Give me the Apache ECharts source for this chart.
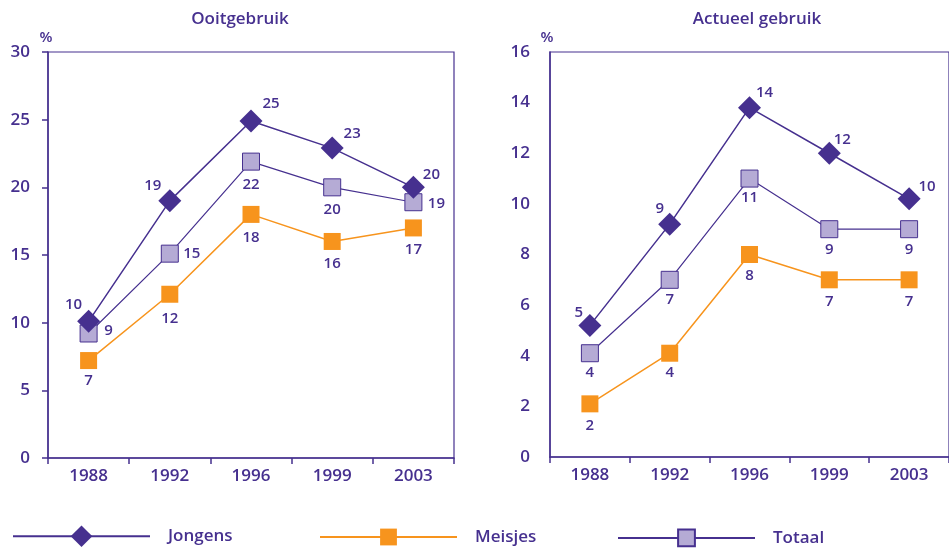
<!DOCTYPE html>
<html>
<head>
<meta charset="utf-8">
<script src="https://cdn.jsdelivr.net/npm/echarts@6/dist/echarts.min.js"></script>
<style>html,body{margin:0;padding:0;background:#fff;}#c{width:949px;height:548px;}</style>
</head>
<body>
<div id="c"></div>
<script>
// ---- data ----
var years = ['1988', '1992', '1996', '1999', '2003'];
var titleLeft = 'Ooitgebruik';
var titleRight = 'Actueel gebruik';
var seriesNames = ['Jongens', 'Meisjes', 'Totaal'];
// Ooitgebruik (%)
var ooitJongens = [10.1, 19.0, 24.9, 22.9, 20.0];
var ooitMeisjes = [7.2, 12.1, 18.0, 16.0, 17.0];
var ooitTotaal  = [9.2, 15.1, 21.9, 20.0, 18.9];
// Actueel gebruik (%)
var actJongens = [5.2, 9.2, 13.8, 12.0, 10.2];
var actMeisjes = [2.1, 4.1, 8.0, 7.0, 7.0];
var actTotaal  = [4.1, 7.0, 11.0, 9.0, 9.0];
// axis ticks
var leftTicks = {min: 0, max: 30, interval: 5};
var rightTicks = {min: 0, max: 16, interval: 2};

// ---- styles ----
var PURPLE = '#46308f';
var ORANGE = '#f7941d';
var LAVENDER = '#b5abd5';
var FONT = 'Open Sans';
var FW = 600;

// label offsets (layout only)
var offL = {
  Jongens: [[-15,-17],[-17,-15],[20,-17],[20,-14],[18,-13]],
  Meisjes: [[0,20],[0,24],[0,23],[0,22],[0,22]],
  Totaal:  [[20,-3],[22,0],[0,23],[0,22],[23,2]]
};
var offR = {
  Jongens: [[-11,-13],[-10,-15],[15,-15],[13,-14],[18,-12]],
  Meisjes: [[0,22],[0,20],[0,21],[0,22],[0,22]],
  Totaal:  [[0,20],[0,20],[0,19],[0,21],[0,21]]
};

function withLabels(vals, offs) {
  return vals.map(function (v, i) {
    return {value: v, label: {offset: offs[i]}};
  });
}

var styles = {
  Jongens: {symbol: 'diamond', symbolSize: 23, lineStyle: {color: PURPLE, width: 1.5},
            itemStyle: {color: PURPLE, borderColor: PURPLE, borderWidth: 0}},
  Meisjes: {symbol: 'rect', symbolSize: 17, lineStyle: {color: ORANGE, width: 1.5},
            itemStyle: {color: ORANGE, borderColor: ORANGE, borderWidth: 0}},
  Totaal:  {symbol: 'rect', symbolSize: 17, lineStyle: {color: PURPLE, width: 1.2},
            itemStyle: {color: LAVENDER, borderColor: PURPLE, borderWidth: 1}}
};

function mkSeries(name, vals, offs, xi, yi) {
  var s = styles[name];
  return {
    name: name, type: 'line', xAxisIndex: xi, yAxisIndex: yi,
    symbol: s.symbol, symbolSize: s.symbolSize, showAllSymbol: true,
    lineStyle: s.lineStyle, itemStyle: s.itemStyle,
    emphasis: {disabled: true}, animation: false,
    label: {show: true, position: 'inside', color: PURPLE, fontFamily: FONT, fontSize: 15, fontWeight: FW,
            formatter: function (p) { return Math.round(p.value); }},
    data: withLabels(vals, offs),
    z: name === 'Jongens' ? 4 : (name === 'Totaal' ? 3 : 2)
  };
}

var axisText = {color: PURPLE, fontFamily: FONT, fontSize: 17, fontWeight: FW};

function xAx(gi) {
  return {type: 'category', gridIndex: gi, data: years, boundaryGap: true,
    axisLine: {lineStyle: {color: PURPLE, width: 1.5}},
    axisTick: {show: true, length: 6, lineStyle: {color: PURPLE, width: 1.5}},
    axisLabel: Object.assign({margin: 10}, axisText)};
}
function yAx(gi, t, margin, showTick) {
  return {type: 'value', gridIndex: gi, min: t.min, max: t.max, interval: t.interval,
    axisLine: {show: true, lineStyle: {color: PURPLE, width: 1.5}},
    axisTick: {show: showTick, length: 6, lineStyle: {color: PURPLE, width: 1.5}},
    splitLine: {show: false},
    axisLabel: Object.assign({margin: margin}, axisText)};
}

var yAxes = [yAx(0, leftTicks, 18, true), yAx(1, rightTicks, 20, false)];
// right panel tick marks (drawn as in the source, on their own spacing)
yAxes.push({type: 'value', gridIndex: 1, min: 0, max: 14, interval: 2,
  axisLine: {show: false}, splitLine: {show: false}, axisLabel: {show: false},
  axisTick: {show: true, length: 6, lineStyle: {color: PURPLE, width: 1.5}}});

function legendFor(name, left, h) {
  return {data: [name], left: left, top: 539 - h / 2, padding: 0,
    itemWidth: 137, itemHeight: h, selectedMode: false,
    textStyle: {color: PURPLE, fontFamily: FONT, fontSize: 17, fontWeight: FW, padding: [0, 0, 0, 13]}};
}

var tfont = FW + ' 17px "' + FONT + '"';
var option = {
  animation: false,
  backgroundColor: '#fff',
  grid: [
    {left: 48, top: 52, width: 406, height: 406, show: true, borderColor: PURPLE, borderWidth: 1.2, backgroundColor: 'transparent'},
    {left: 550, top: 52, width: 406, height: 405, show: true, borderColor: PURPLE, borderWidth: 1.2, backgroundColor: 'transparent'}
  ],
  xAxis: [xAx(0), xAx(1)],
  yAxis: yAxes,
  legend: [legendFor('Jongens', 12, 27), legendFor('Meisjes', 319, 21), legendFor('Totaal', 617, 21)],
  graphic: [
    {type: 'text', x: 240, y: 19, style: {text: titleLeft, fill: PURPLE, font: tfont, textAlign: 'center', textVerticalAlign: 'middle'}},
    {type: 'text', x: 757, y: 19, style: {text: titleRight, fill: PURPLE, font: tfont, textAlign: 'center', textVerticalAlign: 'middle'}},
    {type: 'text', x: 46, y: 38, style: {text: '%', fill: PURPLE, font: FW + ' 15px "' + FONT + '"', textAlign: 'center', textVerticalAlign: 'middle'}},
    {type: 'text', x: 547, y: 38, style: {text: '%', fill: PURPLE, font: FW + ' 15px "' + FONT + '"', textAlign: 'center', textVerticalAlign: 'middle'}}
  ],
  series: [
    mkSeries('Meisjes', ooitMeisjes, offL.Meisjes, 0, 0),
    mkSeries('Totaal', ooitTotaal, offL.Totaal, 0, 0),
    mkSeries('Jongens', ooitJongens, offL.Jongens, 0, 0),
    mkSeries('Meisjes', actMeisjes, offR.Meisjes, 1, 1),
    mkSeries('Totaal', actTotaal, offR.Totaal, 1, 1),
    mkSeries('Jongens', actJongens, offR.Jongens, 1, 1)
  ]
};

var chart = echarts.init(document.getElementById('c'), null, {renderer: 'canvas'});
chart.setOption(option);
</script>
</body>
</html>
